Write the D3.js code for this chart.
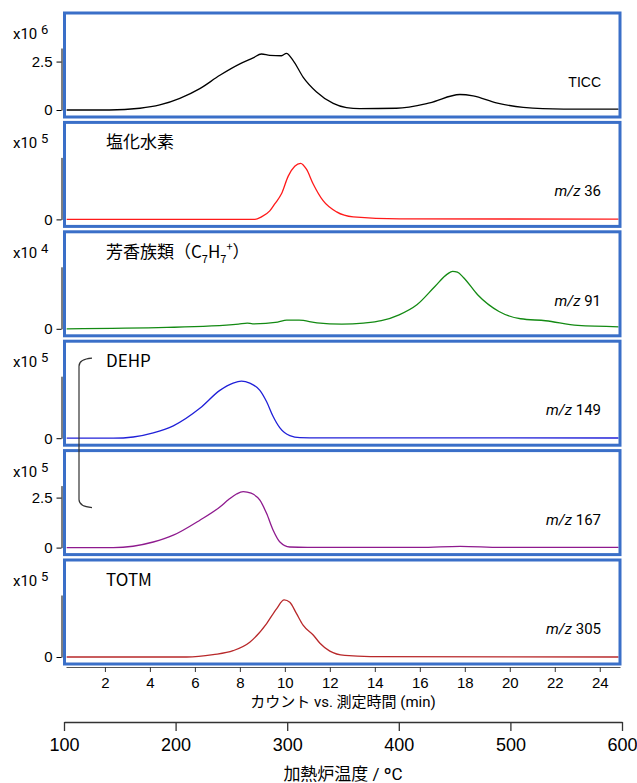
<!DOCTYPE html>
<html>
<head>
<meta charset="utf-8">
<script src="https://cdn.jsdelivr.net/npm/d3@7"></script>
<style>
  body { margin: 0; background: #fff; }
  svg { font-family: Roboto, "Noto Sans CJK JP", sans-serif; }
</style>
</head>
<body>
<svg id="chart" width="637" height="783"></svg>
<script>
// ---- data (time in min, counts in panel units) ----
const ticcTime  = [0.3, 2.2, 3.56, 4.44, 5.33, 6.22, 7.11, 8.0, 8.59, 8.96, 9.33, 9.85, 10.07, 10.37, 10.81, 11.41, 12.15, 12.74, 13.33, 14.96, 16.44, 17.78, 18.37, 19.4, 20.6, 22.4, 24.9];
const ticcValue = [0, 0, 0.09, 0.26, 0.6, 1.1, 1.79, 2.38, 2.69, 2.89, 2.82, 2.8, 2.92, 2.55, 1.7, 0.93, 0.34, 0.12, 0.07, 0.09, 0.37, 0.8, 0.73, 0.37, 0.14, 0.05, 0.04];

const m36Time  = [0.3, 8.67, 8.96, 9.33, 9.56, 9.85, 10.15, 10.44, 10.7, 10.96, 11.26, 11.7, 12.3, 13.04, 15.1, 24.9];
const m36Value = [0, 0, 0.13, 0.43, 0.8, 1.3, 2.2, 2.7, 2.85, 2.55, 1.8, 0.95, 0.38, 0.13, 0.03, 0.01];

const m91Time  = [0.3, 4.76, 7.94, 8.33, 8.57, 9.68, 10.08, 10.63, 11.43, 12.54, 13.49, 14.29, 15.08, 15.87, 16.67, 17.22, 17.46, 17.67, 17.94, 18.57, 19.52, 20.48, 21.59, 23.02, 24.9];
const m91Value = [0, 0.07, 0.24, 0.29, 0.25, 0.34, 0.44, 0.44, 0.3, 0.24, 0.29, 0.41, 0.71, 1.22, 2.15, 2.78, 2.92, 2.88, 2.61, 1.73, 0.88, 0.51, 0.41, 0.17, 0.1];

const m149Time  = [0.3, 2.37, 3.26, 4.15, 5.04, 6.22, 7.11, 7.7, 8.07, 8.44, 8.89, 9.19, 9.48, 9.78, 10.22, 10.67, 11.56, 24.9];
const m149Value = [0, 0, 0.06, 0.27, 0.63, 1.52, 2.43, 2.8, 2.9, 2.8, 2.43, 1.85, 1.1, 0.52, 0.13, 0.03, 0.02, 0.01];

const m167Time  = [0.3, 2.37, 4.15, 5.04, 6.22, 7.11, 7.5, 7.85, 8.15, 8.5, 8.89, 9.19, 9.48, 9.78, 10.22, 11.0, 16.0, 17.8, 19.6, 24.9];
const m167Value = [0, 0, 0.28, 0.62, 1.37, 2.03, 2.4, 2.68, 2.8, 2.72, 2.37, 1.7, 0.87, 0.28, 0.03, 0.01, 0.01, 0.06, 0.01, 0.01];

const m305Time  = [0.3, 5.63, 6.81, 7.7, 8.44, 9.19, 9.63, 9.97, 10.22, 10.52, 10.81, 11.26, 11.56, 12.0, 12.67, 13.8, 24.9];
const m305Value = [0, 0, 0.12, 0.32, 0.75, 1.7, 2.45, 2.9, 2.78, 2.2, 1.62, 1.12, 0.7, 0.3, 0.08, 0.02, 0];

const seriesTime  = [ticcTime, m36Time, m91Time, m149Time, m167Time, m305Time];
const seriesValue = [ticcValue, m36Value, m91Value, m149Value, m167Value, m305Value];
const ionLabels   = ["TICC", "36", "91", "149", "167", "305"];
const compoundNames = ["", "塩化水素", "芳香族類", "DEHP", "", "TOTM"];
const exponents   = ["6", "5", "4", "5", "5", "5"];
const yTickValues = [[0, 2.5], [0], [0], [0], [0, 2.5], [0]];
const yMaxes      = [3.2, 3.15, 3.15, 3.15, 3.1, 3.15];
const colours     = ["#000000", "#ff1a1a", "#138a13", "#2020d8", "#8e1a8e", "#b8282a"];

const timeTicks = d3.range(2, 25, 2);
const tempTicks = [100, 200, 300, 400, 500, 600];

// ---- layout ----
const svg = d3.select("#chart");
const boxLeft = 64.5, boxRight = 620;
const panelStep = 109.4, panelTop0 = 13, panelHeight = 104;

const xScale = d3.scaleLinear().domain([0.27, 24.9]).range([66, 620]);
const tempScale = d3.scaleLinear().domain([100, 600]).range([64, 622]);

seriesTime.forEach((times, i) => {
  const top = panelTop0 + i * panelStep;
  const g = svg.append("g");

  const yScale = d3.scaleLinear().domain([0, yMaxes[i]]).range([top + 97, top + 35]);

  // clip inside box
  svg.append("clipPath").attr("id", `clip${i}`)
    .append("rect")
    .attr("x", boxLeft + 1.5).attr("y", top + 1.5)
    .attr("width", boxRight - boxLeft - 3).attr("height", panelHeight - 3);

  const pts = times.map((t, k) => [t, seriesValue[i][k]]);
  const line = d3.line()
    .x(d => xScale(d[0]))
    .y(d => yScale(d[1]))
    .curve(d3.curveMonotoneX);

  g.append("path")
    .datum(pts)
    .attr("clip-path", `url(#clip${i})`)
    .attr("d", line)
    .attr("fill", "none")
    .attr("stroke", colours[i])
    .attr("stroke-width", 1.3);

  // box
  g.append("rect")
    .attr("x", boxLeft).attr("y", top)
    .attr("width", boxRight - boxLeft).attr("height", panelHeight)
    .attr("fill", "none")
    .attr("stroke", "#3a6fc8")
    .attr("stroke-width", 3);

  // y axis
  const yAxis = d3.axisLeft(yScale)
    .tickValues(yTickValues[i])
    .tickFormat(d => d === 0 ? "0" : d3.format(".1f")(d))
    .tickSize(5).tickSizeOuter(0).tickPadding(4);
  const yAxisG = g.append("g")
    .attr("transform", "translate(61.5,0)")
    .call(yAxis);
  yAxisG.select(".domain").attr("stroke", "#000").attr("stroke-width", 1);
  yAxisG.selectAll("text").attr("font-size", 15).attr("fill", "#000");

  // scale exponent label
  const ex = g.append("text")
    .attr("x", 13).attr("y", top + 26)
    .attr("font-size", 15).attr("fill", "#000");
  ex.append("tspan").text("x10 ");
  ex.append("tspan").attr("dy", -5).attr("font-size", 13).text(exponents[i]);

  // ion label on the right
  const lab = g.append("text")
    .attr("x", 601).attr("y", top + 74)
    .attr("text-anchor", "end")
    .attr("font-size", 15).attr("fill", "#000");
  if (i === 0) {
    lab.attr("font-family", "'Liberation Sans', Arial, sans-serif").attr("font-size", 14).text("TICC");
  } else {
    lab.append("tspan").attr("font-style", "italic").text("m/z");
    lab.append("tspan").text(" " + ionLabels[i]);
  }

  // compound name
  if (compoundNames[i]) {
    const nm = g.append("text")
      .attr("x", 106).attr("y", top + 26)
      .attr("font-size", 17).attr("fill", "#000")
      .attr("font-family", "'Noto Sans CJK JP', sans-serif");
    nm.append("tspan").text(compoundNames[i]);
    if (i === 2) {
      nm.append("tspan").text("（C");
      nm.append("tspan").attr("font-size", 11).attr("dy", 5).text("7");
      nm.append("tspan").attr("dy", -5).text("H");
      nm.append("tspan").attr("font-size", 11).attr("dy", 5).text("7");
      nm.append("tspan").attr("font-size", 11).attr("dy", -12).text("+");
      nm.append("tspan").attr("dy", 7).text("）");
    }
  }
});

// bracket joining m/z 149 and m/z 167 (DEHP)
const bTop = panelTop0 + 3 * panelStep + 17;
const bBot = panelTop0 + 4 * panelStep + 57;
const bp = d3.path();
bp.moveTo(92, bTop);
bp.quadraticCurveTo(79, bTop + 1, 79, bTop + 8);
bp.lineTo(79, bBot - 8);
bp.quadraticCurveTo(79, bBot - 1, 92, bBot);
svg.append("path").attr("d", bp.toString())
  .attr("fill", "none").attr("stroke", "#333").attr("stroke-width", 1.2);

// time axis
const timeAxisY = panelTop0 + 5 * panelStep + panelHeight + 3;
const xAxisG = svg.append("g")
  .attr("transform", `translate(0,${timeAxisY})`)
  .call(d3.axisBottom(xScale).tickValues(timeTicks).tickSize(5).tickSizeOuter(0).tickPadding(5));
xAxisG.select(".domain").attr("stroke", "#555");
xAxisG.selectAll(".tick line").attr("stroke", "#333");
xAxisG.selectAll("text").attr("font-size", 15).attr("fill", "#000");

svg.append("text")
  .attr("x", 343).attr("y", 707)
  .attr("text-anchor", "middle")
  .attr("font-size", 15).attr("fill", "#000")
  .text("カウント vs. 測定時間 (min)");

// temperature axis
const tempAxisG = svg.append("g")
  .attr("transform", "translate(0,722)")
  .call(d3.axisBottom(tempScale).tickValues(tempTicks).tickSize(9).tickSizeOuter(0).tickPadding(7));
tempAxisG.select(".domain").attr("stroke", "#333").attr("stroke-width", 1.3);
tempAxisG.selectAll(".tick line").attr("stroke", "#333").attr("stroke-width", 1.3);
tempAxisG.selectAll("text").attr("font-size", 18).attr("fill", "#000");

svg.append("text")
  .attr("x", 343).attr("y", 780)
  .attr("text-anchor", "middle")
  .attr("font-size", 17).attr("fill", "#000")
  .text("加熱炉温度 / ºC");
</script>
</body>
</html>
